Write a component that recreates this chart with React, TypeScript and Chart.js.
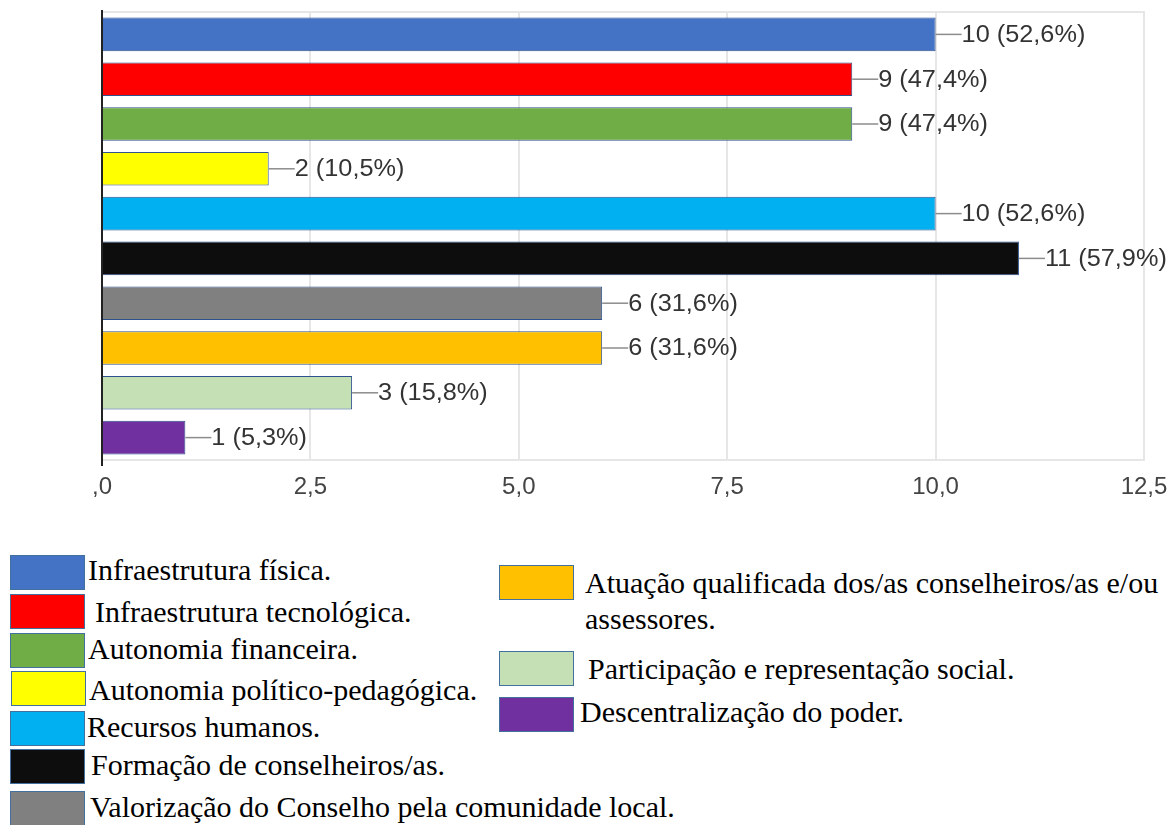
import React, { useEffect, useRef } from "react";
import { Chart, registerables } from "chart.js";

Chart.register(...registerables);

const categories = [
  "Infraestrutura física.",
  "Infraestrutura tecnológica.",
  "Autonomia financeira.",
  "Autonomia político-pedagógica.",
  "Recursos humanos.",
  "Formação de conselheiros/as.",
  "Valorização do Conselho pela comunidade local.",
  "Atuação qualificada dos/as conselheiros/as e/ou assessores.",
  "Participação e representação social.",
  "Descentralização do poder.",
];
const counts = [10, 9, 9, 2, 10, 11, 6, 6, 3, 1];
const percents = ["52,6%", "47,4%", "47,4%", "10,5%", "52,6%", "57,9%", "31,6%", "31,6%", "15,8%", "5,3%"];
const colors = [
  "#4472C4", "#FF0000", "#70AD47", "#FFFF00", "#00B0F0",
  "#0D0D0D", "#808080", "#FFC000", "#C5E0B4", "#7030A0",
];
const xTicks = [",0", "2,5", "5,0", "7,5", "10,0", "12,5"];

const SERIF = "'Liberation Serif', 'DejaVu Serif', 'Times New Roman', Times, serif";
const SANS = "'Liberation Sans', Arial, Helvetica, sans-serif";

// sx/sy: swatch top-left, tx: text left, base: baseline of first text line
const legendLayout: { sx: number; sy: number; tx: number; base: number; lines: string[] }[] = [
  { sx: 10, sy: 555, tx: 88, base: 580, lines: [categories[0]] },
  { sx: 10, sy: 594, tx: 95, base: 622, lines: [categories[1]] },
  { sx: 10, sy: 633, tx: 88, base: 659, lines: [categories[2]] },
  { sx: 11, sy: 671, tx: 89, base: 700, lines: [categories[3]] },
  { sx: 10, sy: 711, tx: 87, base: 737, lines: [categories[4]] },
  { sx: 10, sy: 749, tx: 91, base: 775, lines: [categories[5]] },
  { sx: 10, sy: 791, tx: 90, base: 817, lines: [categories[6]] },
  { sx: 499, sy: 565, tx: 585, base: 593, lines: ["Atuação qualificada dos/as conselheiros/as e/ou", "assessores."] },
  { sx: 499, sy: 651, tx: 588, base: 679, lines: [categories[8]] },
  { sx: 499, sy: 697, tx: 580, base: 722, lines: [categories[9]] },
];

const framePlugin = {
  id: "frame",
  beforeDatasetsDraw(chart: any) {
    const { ctx, chartArea } = chart;
    ctx.save();
    ctx.strokeStyle = "#e6e6e6";
    ctx.lineWidth = 2;
    ctx.strokeRect(chartArea.left, chartArea.top, chartArea.right - chartArea.left, chartArea.bottom - chartArea.top);
    ctx.restore();
  },
  afterDatasetsDraw(chart: any) {
    const { ctx, chartArea } = chart;
    ctx.save();
    ctx.strokeStyle = "#222";
    ctx.lineWidth = 2;
    ctx.beginPath();
    ctx.moveTo(chartArea.left, chartArea.top - 2);
    ctx.lineTo(chartArea.left, chartArea.bottom + 6);
    ctx.stroke();
    ctx.restore();
  },
};

const labelPlugin = {
  id: "barLabels",
  afterDatasetsDraw(chart: any) {
    const { ctx } = chart;
    const meta = chart.getDatasetMeta(0);
    meta.data.forEach((bar: any, i: number) => {
      const x = bar.x;
      const y = bar.y;
      ctx.save();
      ctx.strokeStyle = "#8c8c8c";
      ctx.lineWidth = 1.5;
      ctx.beginPath();
      ctx.moveTo(x, y);
      ctx.lineTo(x + 26, y);
      ctx.stroke();
      ctx.translate(x + 26, y + 1);
      ctx.scale(1.1, 1);
      ctx.font = `23px ${SANS}`;
      ctx.textBaseline = "middle";
      ctx.textAlign = "left";
      ctx.fillStyle = "#333333";
      ctx.fillText(`${counts[i]} (${percents[i]})`, 0, 0);
      ctx.restore();
    });
  },
};

export default function App() {
  const ref = useRef<HTMLCanvasElement | null>(null);

  useEffect(() => {
    if (!ref.current) return;
    const chart = new Chart(ref.current, {
      type: "bar",
      data: {
        labels: categories,
        datasets: [
          {
            data: counts,
            backgroundColor: colors,
            borderColor: "#2F528F",
            borderWidth: 1,
            barPercentage: 0.75,
            categoryPercentage: 1,
          },
        ],
      },
      options: {
        indexAxis: "y",
        animation: false,
        responsive: false,
        maintainAspectRatio: false,
        layout: { padding: { left: 102, right: 29, top: 12, bottom: 0 } },
        plugins: { legend: { display: false }, tooltip: { enabled: false } },
        scales: {
          x: {
            min: 0,
            max: 12.5,
            afterBuildTicks: (s: any) => {
              s.ticks = xTicks.map((_t, i) => ({ value: i * 2.5 }));
            },
            ticks: {
              padding: 13,
              color: "#444444",
              font: { size: 24, family: SANS },
              callback: (_v: any, i: number) => xTicks[i],
            },
            grid: { color: "#e6e6e6", lineWidth: 2, drawTicks: false },
            border: { display: false },
            afterFit: (s: any) => {
              s.height = 50;
              s.paddingRight = 0;
            },
          },
          y: {
            ticks: { display: false },
            grid: { display: false },
            border: { display: false },
            afterFit: (s: any) => {
              s.width = 0;
            },
          },
        },
      },
      plugins: [framePlugin, labelPlugin],
    });
    return () => chart.destroy();
  }, []);

  const FS = 30;
  const LH = 36;
  return (
    <div style={{ position: "absolute", left: 0, top: 0, width: 1173, height: 825, background: "#fff", overflow: "hidden" }}>
      <canvas ref={ref} width={1173} height={510} style={{ position: "absolute", left: 0, top: 0 }} />
      {legendLayout.map((item, i) => (
        <React.Fragment key={i}>
          <div
            style={{
              position: "absolute",
              left: item.sx,
              top: item.sy,
              width: 75,
              height: 35,
              background: colors[i],
              border: "1.5px solid #41719C",
              boxSizing: "border-box",
            }}
          />
          <div
            style={{
              position: "absolute",
              left: item.tx,
              top: item.base - (LH - FS * 1.107) / 2 - FS * 0.891,
              fontFamily: SERIF,
              fontSize: FS,
              lineHeight: `${LH}px`,
              color: "#000",
              whiteSpace: "nowrap",
            }}
          >
            {item.lines.map((l, j) => (
              <div key={j}>{l}</div>
            ))}
          </div>
        </React.Fragment>
      ))}
    </div>
  );
}
